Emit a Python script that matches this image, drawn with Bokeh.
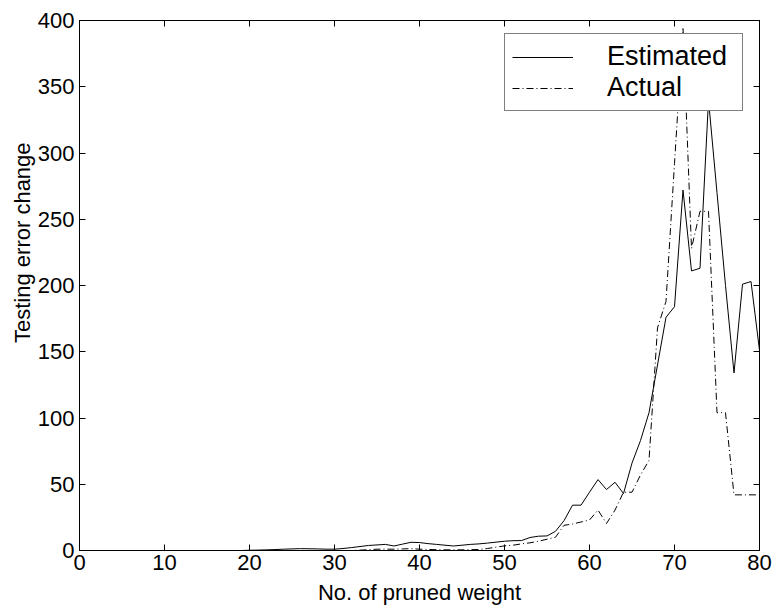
from bokeh.plotting import figure
from bokeh.models import (LinearAxis, Range1d, Legend, LegendItem, FixedTicker,
                          CustomJSTickFormatter)
from bokeh.embed import file_html
from bokeh.resources import INLINE

# ---- data ----
pruned = list(range(0, 81))

estimated = [0.0] * 20 + [
    0.2, 0.3, 0.5, 0.7, 1.0, 1.2, 1.4, 1.3, 1.2, 1.0,          # 20-29
    1.0, 1.5, 2.2, 3.0, 3.8, 4.2, 4.6, 3.4, 4.8, 6.2,          # 30-39
    6.0, 5.2, 4.6, 4.0, 3.4, 4.0, 4.6, 5.0, 5.6, 6.3,          # 40-49
    7.0, 7.4, 7.5, 9.8, 10.8, 11.0, 14.5, 22.5, 34.2, 34.2,    # 50-59
    44.0, 53.5, 46.0, 51.5, 43.0, 66.0, 83.0, 104.0, 140.0, 176.0,  # 60-69
    184.0, 272.0, 211.0, 213.0, 340.0, 270.0, 200.0, 134.0, 201.0, 203.0,  # 70-79
    151.0,                                                     # 80
]

actual = [0.0] * 33 + [
    0.3, 0.6, 1.0, 1.0, 1.0, 1.2, 1.4,                         # 33-39
    1.0, 0.8, 0.6, 0.5, 0.5, 0.5, 0.6, 0.8, 1.5, 2.5,          # 40-49
    3.5, 4.0, 5.0, 5.8, 7.0, 8.5, 10.0, 19.0, 20.0, 21.5,      # 50-59
    23.0, 30.5, 20.4, 30.5, 44.0, 44.0, 57.0, 68.0, 168.0, 188.0,  # 60-69
    292.0, 395.0, 228.0, 256.0, 256.0, 104.0, 104.0, 42.0, 42.0, 42.0,  # 70-79
    42.0,                                                      # 80
]

x_ticks = [0, 10, 20, 30, 40, 50, 60, 70, 80]
y_ticks = [0, 50, 100, 150, 200, 250, 300, 350, 400]

x_title = "No. of pruned weight"
y_title = "Testing error change"
series_names = ["Estimated", "Actual"]

FONT = "Liberation Sans"
TICK_FS = "22px"

# leading no-break spaces shift the rotated y title upward, as in the reference
y_title_shifted = "\u00a0" * 14 + y_title

p = figure(width=773, height=610, output_backend="svg", toolbar_location=None,
           x_range=Range1d(0, 80), y_range=Range1d(0, 400),
           min_border_left=79, min_border_right=14, min_border_top=20,
           min_border_bottom=60, x_axis_label=x_title, y_axis_label=y_title_shifted)

p.background_fill_color = "white"
p.border_fill_color = "white"
p.outline_line_color = "black"
p.grid.visible = False

blank = CustomJSTickFormatter(code="return ''")

def style_axis(ax, labels=True):
    ax.axis_line_color = "black"
    ax.axis_line_width = 1
    ax.major_tick_line_color = "black"
    ax.major_tick_in = 6
    ax.major_tick_out = 0
    ax.minor_tick_line_color = None
    if labels:
        ax.major_label_text_font = FONT
        ax.major_label_text_font_size = TICK_FS
        ax.major_label_text_color = "black"
        ax.axis_label_text_font = FONT
        ax.axis_label_text_font_size = TICK_FS
        ax.axis_label_text_font_style = "normal"
        ax.axis_label_text_color = "black"
    else:
        ax.formatter = blank
        ax.major_label_standoff = 0

style_axis(p.xaxis[0])
style_axis(p.yaxis[0])
p.xaxis[0].ticker = FixedTicker(ticks=x_ticks)
p.yaxis[0].ticker = FixedTicker(ticks=y_ticks)
p.xaxis[0].major_label_standoff = 4
p.yaxis[0].major_label_standoff = 5
p.xaxis[0].axis_label_standoff = 7
p.yaxis[0].axis_label_standoff = 0

top_ax = LinearAxis(ticker=FixedTicker(ticks=x_ticks))
style_axis(top_ax, labels=False)
p.add_layout(top_ax, "above")
right_ax = LinearAxis(ticker=FixedTicker(ticks=y_ticks))
style_axis(right_ax, labels=False)
p.add_layout(right_ax, "right")

r_est = p.line(pruned, estimated, line_color="black", line_width=1)
r_act = p.line(pruned, actual, line_color="black", line_width=1, line_dash="7 3 1 3")

legend = Legend(items=[LegendItem(label=series_names[0], renderers=[r_est]),
                       LegendItem(label=series_names[1], renderers=[r_act])],
                location=(425, 439), orientation="vertical")
legend.label_text_font = FONT
legend.label_text_font_size = "27px"
legend.label_text_color = "black"
legend.glyph_width = 61
legend.glyph_height = 20
legend.label_standoff = 34
legend.label_width = 128
legend.padding = 7
legend.spacing = 0
legend.margin = 0
legend.border_line_color = "black"
legend.border_line_width = 1
legend.background_fill_color = "white"
legend.background_fill_alpha = 1.0
p.add_layout(legend)

open("out.html", "w").write(file_html(p, INLINE))
